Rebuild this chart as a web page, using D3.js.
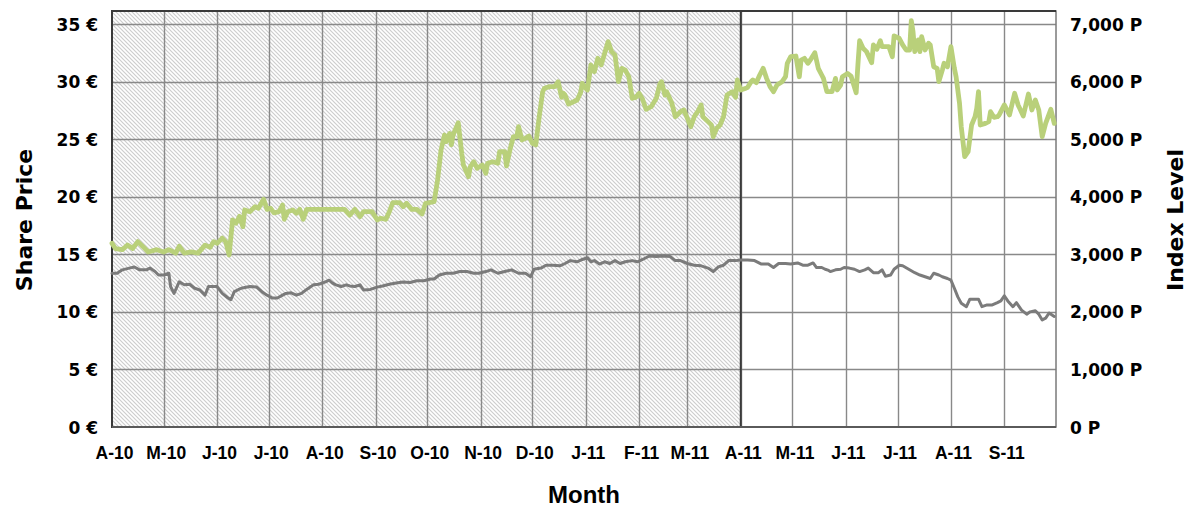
<!DOCTYPE html>
<html>
<head>
<meta charset="utf-8">
<script src="https://cdn.jsdelivr.net/npm/d3@7"></script>
<style>
  html, body { margin: 0; padding: 0; background: #fff; }
  svg { display: block; }
</style>
</head>
<body>
<svg id="chart" width="1189" height="508"></svg>
<script>
// Month tick labels along the time axis (Apr 2010 .. Sep 2011)
const monthLabels = ["A-10","M-10","J-10","J-10","A-10","S-10","O-10","N-10","D-10",
                     "J-11","F-11","M-11","A-11","M-11","J-11","J-11","A-11","S-11"];
const priceTicks = [0, 5, 10, 15, 20, 25, 30, 35];
const indexTicks = [0, 1000, 2000, 3000, 4000, 5000, 6000, 7000];
const timeSpan = ["2010-04-01", "2011-10-01"];
// First twelve months are shaded
const shadedSpan = ["2010-04-01", "2011-04-01"];

// Share price, EUR
const sharePrice = [
  ["2010-04-01",15.95],["2010-04-03",15.5],["2010-04-07",15.4],["2010-04-10",15.8],["2010-04-13",15.5],
  ["2010-04-16",16.1],["2010-04-19",15.66],["2010-04-22",15.2],["2010-04-27",15.4],["2010-05-01",15.2],
  ["2010-05-04",15.4],["2010-05-08",15.1],["2010-05-10",15.7],["2010-05-13",15.1],["2010-05-17",15.2],
  ["2010-05-21",15.1],["2010-05-25",15.8],["2010-05-28",15.6],["2010-05-30",16.1],["2010-06-01",15.95],
  ["2010-06-04",16.4],["2010-06-06",16.1],["2010-06-08",14.94],["2010-06-10",17.98],["2010-06-12",17.7],
  ["2010-06-14",18.3],["2010-06-16",17.4],["2010-06-17",18.85],["2010-06-20",18.7],["2010-06-23",19.13],
  ["2010-06-25",19.0],["2010-06-28",19.78],["2010-06-30",18.9],["2010-07-02",19.0],["2010-07-04",18.6],
  ["2010-07-07",18.7],["2010-07-09",19.28],["2010-07-10",18.04],["2010-07-12",18.7],["2010-07-15",18.85],
  ["2010-07-17",18.56],["2010-07-19",18.9],["2010-07-21",18.04],["2010-07-23",18.9],["2010-08-14",18.9],
  ["2010-08-17",18.4],["2010-08-20",18.9],["2010-08-23",18.27],["2010-08-25",18.7],["2010-08-30",18.7],
  ["2010-09-02",17.98],["2010-09-04",18.13],["2010-09-07",18.04],["2010-09-09",18.7],["2010-09-11",19.48],
  ["2010-09-15",19.48],["2010-09-17",19.13],["2010-09-19",19.43],["2010-09-22",18.9],["2010-09-25",18.9],
  ["2010-09-28",18.5],["2010-09-30",19.43],["2010-10-05",19.57],["2010-10-07",21.45],["2010-10-09",24.06],
  ["2010-10-11",25.36],["2010-10-12",24.78],["2010-10-14",25.5],["2010-10-15",24.5],["2010-10-16",25.36],
  ["2010-10-19",26.43],["2010-10-21",23.77],["2010-10-22",22.75],["2010-10-25",21.74],["2010-10-26",22.6],
  ["2010-10-28",23.04],["2010-10-30",22.47],["2010-11-02",22.75],["2010-11-04",22.03],["2010-11-05",22.9],
  ["2010-11-08",23.04],["2010-11-11",22.9],["2010-11-12",23.91],["2010-11-15",23.91],["2010-11-16",22.67],
  ["2010-11-18",24.06],["2010-11-20",25.21],["2010-11-22",25.21],["2010-11-23",26.08],["2010-11-25",24.93],
  ["2010-11-27",25.07],["2010-11-29",25.27],["2010-12-01",24.64],["2010-12-03",24.5],["2010-12-05",26.95],
  ["2010-12-07",29.12],["2010-12-08",29.42],["2010-12-11",29.56],["2010-12-14",29.56],["2010-12-16",29.99],
  ["2010-12-18",28.63],["2010-12-19",28.98],["2010-12-20",28.83],["2010-12-22",28.05],["2010-12-25",28.25],
  ["2010-12-27",28.4],["2010-12-29",29.03],["2010-12-30",29.85],["2011-01-01",29.42],["2011-01-02",29.27],
  ["2011-01-04",31.44],["2011-01-06",30.86],["2011-01-08",32.02],["2011-01-10",31.44],["2011-01-12",32.46],
  ["2011-01-14",33.47],["2011-01-16",32.6],["2011-01-18",32.31],["2011-01-20",29.99],["2011-01-22",31.15],
  ["2011-01-24",31.0],["2011-01-26",30.42],["2011-01-28",28.55],["2011-01-30",28.63],["2011-02-01",28.98],
  ["2011-02-03",28.46],["2011-02-05",27.59],["2011-02-08",27.82],["2011-02-11",28.55],["2011-02-13",29.79],
  ["2011-02-14",29.99],["2011-02-16",28.83],["2011-02-17",29.12],["2011-02-20",28.11],["2011-02-22",26.95],
  ["2011-02-25",27.38],["2011-02-27",27.53],["2011-03-01",26.81],["2011-03-03",26.08],["2011-03-05",26.95],
  ["2011-03-07",27.38],["2011-03-09",27.97],["2011-03-10",26.95],["2011-03-13",26.52],["2011-03-15",26.23],
  ["2011-03-16",25.21],["2011-03-18",25.94],["2011-03-20",26.23],["2011-03-22",26.95],["2011-03-24",28.83],
  ["2011-03-27",29.12],["2011-03-29",28.63],["2011-03-30",30.14],["2011-04-01",29.27],["2011-04-04",29.42],
  ["2011-04-05",29.5],["2011-04-07",29.99],["2011-04-08",30.14],["2011-04-10",29.9],["2011-04-12",30.57],
  ["2011-04-14",31.15],["2011-04-16",30.28],["2011-04-18",29.56],["2011-04-20",29.12],["2011-04-22",29.7],
  ["2011-04-25",29.99],["2011-04-27",30.42],["2011-04-28",31.59],["2011-04-30",32.16],["2011-05-03",32.22],
  ["2011-05-05",30.42],["2011-05-06",31.87],["2011-05-08",32.02],["2011-05-10",31.59],["2011-05-12",32.02],
  ["2011-05-14",32.51],["2011-05-16",31.15],["2011-05-18",30.57],["2011-05-19",30.28],["2011-05-21",29.12],
  ["2011-05-24",29.12],["2011-05-26",30.28],["2011-05-27",29.27],["2011-05-29",29.7],["2011-05-30",30.42],
  ["2011-06-02",30.71],["2011-06-04",30.48],["2011-06-07",29.03],["2011-06-08",31.44],["2011-06-09",33.55],
  ["2011-06-11",32.89],["2011-06-13",32.6],["2011-06-16",31.64],["2011-06-17",33.18],["2011-06-19",32.8],
  ["2011-06-21",33.55],["2011-06-22",33.03],["2011-06-26",33.03],["2011-06-28",32.16],["2011-06-29",33.96],
  ["2011-07-02",33.76],["2011-07-04",33.18],["2011-07-06",32.74],["2011-07-08",32.74],["2011-07-09",35.29],
  ["2011-07-10",34.33],["2011-07-11",32.6],["2011-07-13",33.62],["2011-07-14",32.6],["2011-07-15",33.9],
  ["2011-07-17",32.74],["2011-07-19",33.33],["2011-07-20",33.18],["2011-07-22",31.29],["2011-07-24",31.15],
  ["2011-07-25",29.99],["2011-07-27",31.0],["2011-07-28",31.59],["2011-07-30",31.29],["2011-08-01",33.03],
  ["2011-08-03",31.15],["2011-08-04",30.42],["2011-08-06",28.11],["2011-08-07",26.08],["2011-08-09",23.48],
  ["2011-08-11",23.91],["2011-08-13",26.23],["2011-08-15",26.95],["2011-08-16",27.68],["2011-08-17",29.12],
  ["2011-08-18",26.23],["2011-08-21",26.37],["2011-08-23",26.52],["2011-08-24",27.38],["2011-08-26",26.9],
  ["2011-08-28",26.95],["2011-08-29",27.1],["2011-09-01",27.97],["2011-09-04",27.1],["2011-09-07",28.98],
  ["2011-09-09",27.97],["2011-09-12",27.01],["2011-09-15",28.92],["2011-09-17",27.53],["2011-09-19",28.4],
  ["2011-09-21",27.53],["2011-09-23",25.21],["2011-09-25",26.37],["2011-09-28",27.59],["2011-09-30",26.37]
];

// Index level, points
const indexLevel = [
  ["2010-04-01",2670],["2010-04-04",2670],["2010-04-07",2730],["2010-04-11",2760],["2010-04-14",2780],
  ["2010-04-17",2730],["2010-04-21",2730],["2010-04-23",2760],["2010-04-26",2700],["2010-04-28",2640],
  ["2010-05-01",2640],["2010-05-04",2670],["2010-05-05",2440],["2010-05-07",2320],["2010-05-10",2520],
  ["2010-05-13",2470],["2010-05-16",2480],["2010-05-19",2410],["2010-05-22",2380],["2010-05-25",2290],
  ["2010-05-27",2440],["2010-06-01",2440],["2010-06-04",2320],["2010-06-07",2250],["2010-06-09",2210],
  ["2010-06-11",2350],["2010-06-15",2410],["2010-06-20",2440],["2010-06-24",2430],["2010-06-27",2350],
  ["2010-06-30",2290],["2010-07-03",2240],["2010-07-06",2240],["2010-07-09",2290],["2010-07-11",2320],
  ["2010-07-14",2330],["2010-07-17",2290],["2010-07-20",2320],["2010-07-23",2390],["2010-07-27",2470],
  ["2010-07-30",2480],["2010-08-03",2520],["2010-08-05",2550],["2010-08-07",2500],["2010-08-09",2470],
  ["2010-08-12",2440],["2010-08-15",2470],["2010-08-17",2450],["2010-08-20",2440],["2010-08-23",2470],
  ["2010-08-25",2380],["2010-08-29",2390],["2010-09-02",2430],["2010-09-05",2450],["2010-09-09",2480],
  ["2010-09-13",2500],["2010-09-17",2520],["2010-09-21",2510],["2010-09-25",2540],["2010-09-29",2540],
  ["2010-10-03",2570],["2010-10-05",2570],["2010-10-08",2640],["2010-10-12",2670],["2010-10-16",2670],
  ["2010-10-20",2700],["2010-10-24",2700],["2010-10-28",2670],["2010-10-31",2670],["2010-11-04",2700],
  ["2010-11-07",2730],["2010-11-11",2670],["2010-11-15",2700],["2010-11-19",2730],["2010-11-23",2670],
  ["2010-11-27",2670],["2010-11-30",2610],["2010-12-02",2740],["2010-12-06",2760],["2010-12-09",2810],
  ["2010-12-13",2810],["2010-12-17",2800],["2010-12-20",2840],["2010-12-23",2890],["2010-12-27",2870],
  ["2010-12-30",2910],["2011-01-02",2940],["2011-01-04",2870],["2011-01-06",2890],["2011-01-09",2830],
  ["2011-01-12",2870],["2011-01-15",2840],["2011-01-18",2890],["2011-01-21",2840],["2011-01-24",2870],
  ["2011-01-28",2890],["2011-01-31",2870],["2011-02-03",2910],["2011-02-07",2970],["2011-02-11",2960],
  ["2011-02-15",2970],["2011-02-19",2960],["2011-02-22",2890],["2011-02-25",2890],["2011-03-01",2840],
  ["2011-03-05",2810],["2011-03-09",2800],["2011-03-13",2760],["2011-03-16",2700],["2011-03-19",2780],
  ["2011-03-22",2810],["2011-03-25",2890],["2011-03-29",2890],["2011-04-01",2900],["2011-04-05",2900],
  ["2011-04-09",2890],["2011-04-13",2830],["2011-04-17",2830],["2011-04-20",2770],["2011-04-23",2840],
  ["2011-04-27",2840],["2011-04-30",2830],["2011-05-04",2850],["2011-05-07",2810],["2011-05-10",2810],
  ["2011-05-13",2850],["2011-05-15",2770],["2011-05-18",2770],["2011-05-20",2740],["2011-05-22",2720],
  ["2011-05-23",2700],["2011-05-26",2730],["2011-05-29",2740],["2011-05-31",2770],["2011-06-03",2760],
  ["2011-06-06",2740],["2011-06-09",2700],["2011-06-12",2730],["2011-06-14",2760],["2011-06-17",2680],
  ["2011-06-20",2680],["2011-06-22",2730],["2011-06-24",2620],["2011-06-27",2640],["2011-06-29",2740],
  ["2011-07-02",2810],["2011-07-04",2800],["2011-07-08",2730],["2011-07-11",2680],["2011-07-14",2640],
  ["2011-07-17",2610],["2011-07-20",2580],["2011-07-22",2670],["2011-07-25",2640],["2011-07-27",2610],
  ["2011-07-30",2580],["2011-08-01",2550],["2011-08-03",2410],["2011-08-05",2260],["2011-08-07",2150],
  ["2011-08-10",2090],["2011-08-12",2220],["2011-08-15",2220],["2011-08-17",2220],["2011-08-19",2090],
  ["2011-08-22",2120],["2011-08-25",2120],["2011-08-28",2160],["2011-08-30",2190],["2011-09-01",2280],
  ["2011-09-03",2190],["2011-09-06",2090],["2011-09-08",2160],["2011-09-11",2030],["2011-09-14",1960],
  ["2011-09-16",2000],["2011-09-19",2020],["2011-09-21",1960],["2011-09-23",1860],["2011-09-25",1890],
  ["2011-09-27",1980],["2011-09-30",1920]
];

const parse = d3.timeParse("%Y-%m-%d");
const svg = d3.select("#chart");

const plot = { left: 112, right: 1056, top: 11, bottom: 427, gridTop: 24 };

const x = d3.scaleTime()
  .domain(timeSpan.map(parse))
  .range([plot.left, plot.right]);
const yPrice = d3.scaleLinear()
  .domain([0, 35])
  .range([plot.bottom, plot.gridTop]);
const yIndex = d3.scaleLinear()
  .domain([0, 7000])
  .range([plot.bottom, plot.gridTop]);

// Diagonal hatch pattern for the shaded period
const defs = svg.append("defs");
const pat = defs.append("pattern")
  .attr("id", "hatch")
  .attr("patternUnits", "userSpaceOnUse")
  .attr("width", 4).attr("height", 4);
pat.append("rect").attr("width", 4).attr("height", 4).attr("fill", "#ffffff");
pat.append("path")
  .attr("d", "M-1,-1 L5,5 M-1,3 L1,5 M3,-1 L5,1")
  .attr("stroke", "#cdcdcd")
  .attr("stroke-width", 1.15);

const months = d3.timeMonth.range(parse(timeSpan[0]), parse(timeSpan[1]));

// Shaded period
const sx0 = x(parse(shadedSpan[0])), sx1 = x(parse(shadedSpan[1]));
svg.append("rect")
  .attr("x", sx0).attr("y", plot.top)
  .attr("width", sx1 - sx0).attr("height", plot.bottom - plot.top)
  .attr("fill", "url(#hatch)");

// Gridlines
const grid = svg.append("g").attr("stroke", "#898989").attr("stroke-width", 1.4);
grid.selectAll("line.h").data(priceTicks.slice(1)).join("line")
  .attr("class", "h")
  .attr("x1", plot.left).attr("x2", plot.right)
  .attr("y1", d => Math.round(yPrice(d)) + 0.5)
  .attr("y2", d => Math.round(yPrice(d)) + 0.5);
grid.selectAll("line.v").data(months.slice(1)).join("line")
  .attr("class", "v")
  .attr("x1", d => Math.round(x(d)) + 0.5).attr("x2", d => Math.round(x(d)) + 0.5)
  .attr("y1", plot.top).attr("y2", plot.bottom);

// Plot frame
svg.append("rect")
  .attr("x", plot.left).attr("y", plot.top)
  .attr("width", plot.right - plot.left).attr("height", plot.bottom - plot.top)
  .attr("fill", "none").attr("stroke", "#7a7a7a").attr("stroke-width", 1.5);
svg.append("line")
  .attr("x1", plot.left).attr("x2", plot.right)
  .attr("y1", plot.top).attr("y2", plot.top)
  .attr("stroke", "#1a1a1a").attr("stroke-width", 1.5);
svg.append("rect")
  .attr("x", sx0).attr("y", plot.top)
  .attr("width", sx1 - sx0).attr("height", plot.bottom - plot.top)
  .attr("fill", "none").attr("stroke", "#3a3a3a").attr("stroke-width", 2);
svg.append("line")
  .attr("x1", plot.left).attr("x2", plot.right)
  .attr("y1", plot.bottom).attr("y2", plot.bottom)
  .attr("stroke", "#5a5a5a").attr("stroke-width", 2);

// Series lines
const priceLine = d3.line()
  .x(d => x(parse(d[0])))
  .y(d => yPrice(d[1]));
const indexLine = d3.line()
  .x(d => x(parse(d[0])))
  .y(d => yIndex(d[1]));

svg.append("path")
  .datum(indexLevel)
  .attr("d", indexLine)
  .attr("fill", "none")
  .attr("stroke", "#7b7b7b")
  .attr("stroke-width", 3)
  .attr("stroke-linejoin", "round")
  .attr("stroke-linecap", "round");

svg.append("path")
  .datum(sharePrice)
  .attr("d", priceLine)
  .attr("fill", "none")
  .attr("stroke", "#b9d07a")
  .attr("stroke-width", 4.8)
  .attr("stroke-linejoin", "round")
  .attr("stroke-linecap", "round");

// Axis tick labels
const numFont = "'DejaVu Sans', Verdana, sans-serif";
const labFont = "'Liberation Sans', Arial, sans-serif";

const leftAxis = d3.axisLeft(yPrice)
  .tickValues(priceTicks)
  .tickSize(0).tickPadding(0)
  .tickFormat(d => d + " \u20AC");
const gl = svg.append("g").attr("transform", "translate(98,0)").call(leftAxis);
gl.select(".domain").remove();
gl.selectAll("text")
  .attr("font-family", numFont).attr("font-size", 17).attr("font-weight", "bold")
  .attr("fill", "#000").attr("dy", "0.36em");

const rightAxis = d3.axisRight(yIndex)
  .tickValues(indexTicks)
  .tickSize(0).tickPadding(0)
  .tickFormat(d => d3.format(",")(d) + " P");
const gr = svg.append("g").attr("transform", "translate(1070,0)").call(rightAxis);
gr.select(".domain").remove();
gr.selectAll("text")
  .attr("font-family", numFont).attr("font-size", 17).attr("font-weight", "bold")
  .attr("fill", "#000").attr("dy", "0.36em");

const bottomAxis = d3.axisBottom(x)
  .tickValues(months)
  .tickSize(0).tickPadding(0)
  .tickFormat((d, i) => monthLabels[i]);
const gb = svg.append("g").attr("transform", "translate(2,447)").call(bottomAxis);
gb.select(".domain").remove();
gb.selectAll("text")
  .attr("font-family", labFont).attr("font-size", 17.5).attr("font-weight", "bold")
  .attr("fill", "#000").attr("dy", "0.71em");

// Axis titles
svg.append("text")
  .attr("transform", "translate(32,220) rotate(-90)")
  .attr("text-anchor", "middle")
  .attr("font-family", numFont).attr("font-size", 22).attr("font-weight", "bold")
  .text("Share Price");

svg.append("text")
  .attr("transform", "translate(1183,220) rotate(-90)")
  .attr("text-anchor", "middle")
  .attr("font-family", numFont).attr("font-size", 22).attr("font-weight", "bold")
  .text("Index Level");

svg.append("text")
  .attr("x", 584).attr("y", 503)
  .attr("text-anchor", "middle")
  .attr("font-family", labFont).attr("font-size", 24).attr("font-weight", "bold")
  .text("Month");
</script>
</body>
</html>
